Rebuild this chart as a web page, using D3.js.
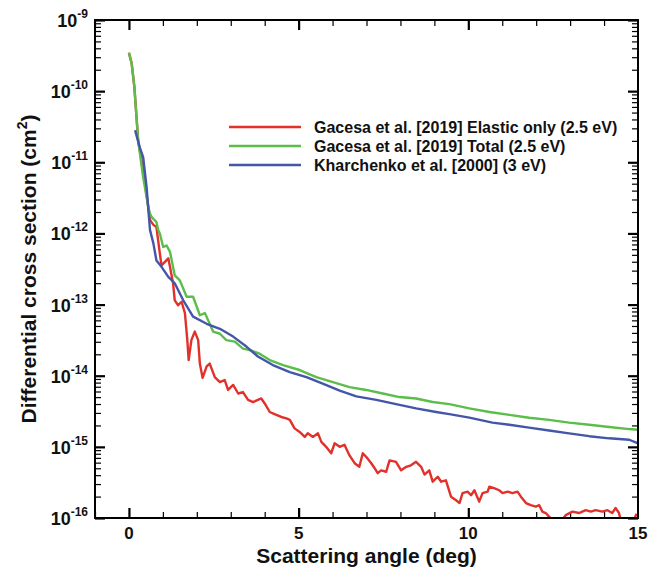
<!DOCTYPE html>
<html>
<head>
<meta charset="utf-8">
<script src="https://cdn.jsdelivr.net/npm/d3@7"></script>
<style>
  body { margin: 0; background: #fff; }
  text { font-family: "Liberation Sans", Arial, sans-serif; font-weight: bold; fill: #111; }
</style>
</head>
<body>
<svg id="dcsChart"></svg>
<script>
// ---- data (angle in deg, log10 of cross section in cm^2)
const elasticAngle = [0, 0.08, 0.16, 0.23, 0.27, 0.32, 0.45, 0.57, 0.62, 0.72, 0.81, 0.91, 0.96, 1.06, 1.16, 1.21, 1.30, 1.35, 1.45, 1.55, 1.65, 1.72, 1.76, 1.84, 1.94, 2.04, 2.09, 2.17, 2.29, 2.38, 2.53, 2.68, 2.82, 2.92, 3.07, 3.22, 3.36, 3.51, 3.66, 3.80, 3.90, 4.00, 4.15, 4.29, 4.49, 4.64, 4.74, 4.88, 5.03, 5.18, 5.27, 5.42, 5.57, 5.67, 5.81, 5.96, 6.06, 6.21, 6.35, 6.50, 6.65, 6.79, 6.89, 6.99, 7.14, 7.24, 7.33, 7.43, 7.58, 7.68, 7.87, 8.02, 8.17, 8.31, 8.46, 8.61, 8.71, 8.85, 8.95, 9.10, 9.20, 9.34, 9.49, 9.64, 9.74, 9.83, 9.98, 10.08, 10.18, 10.32, 10.42, 10.57, 10.62, 10.76, 10.91, 11.01, 11.16, 11.30, 11.45, 11.55, 11.70, 11.84, 11.99, 12.09, 12.18, 12.28, 12.38, 12.53, 12.68, 12.87, 13.07, 13.26, 13.46, 13.61, 13.75, 13.95, 14.10, 14.24, 14.34, 14.44, 14.50, 14.68, 14.85, 14.96];
const elasticLog = [-9.46, -9.61, -9.94, -10.41, -10.69, -10.83, -11.21, -11.63, -11.81, -11.88, -11.91, -12.28, -12.45, -12.40, -12.35, -12.47, -12.70, -12.94, -13.01, -12.96, -13.12, -13.50, -13.78, -13.50, -13.38, -13.50, -13.83, -14.03, -13.87, -13.83, -14.02, -14.09, -14.06, -14.20, -14.13, -14.25, -14.23, -14.34, -14.37, -14.34, -14.32, -14.39, -14.51, -14.54, -14.58, -14.60, -14.62, -14.74, -14.79, -14.86, -14.81, -14.86, -14.81, -14.93, -15.00, -15.09, -14.95, -15.00, -14.97, -15.12, -15.23, -15.28, -15.09, -15.14, -15.23, -15.30, -15.37, -15.33, -15.35, -15.19, -15.21, -15.33, -15.28, -15.26, -15.21, -15.28, -15.39, -15.33, -15.49, -15.42, -15.49, -15.47, -15.70, -15.75, -15.79, -15.65, -15.63, -15.68, -15.61, -15.77, -15.65, -15.63, -15.56, -15.58, -15.61, -15.65, -15.63, -15.65, -15.63, -15.70, -15.79, -15.82, -15.84, -15.82, -15.91, -15.93, -15.98, -16.05, -16.08, -15.96, -15.91, -15.93, -15.89, -15.91, -15.89, -15.91, -15.89, -15.93, -15.86, -15.93, -16.05, -16.10, -16.05, -15.94];

const totalAngle = [0, 0.08, 0.16, 0.23, 0.27, 0.42, 0.57, 0.62, 0.67, 0.81, 0.86, 0.91, 1.01, 1.11, 1.21, 1.35, 1.50, 1.70, 1.89, 2.09, 2.24, 2.48, 2.68, 2.87, 3.12, 3.36, 3.56, 3.85, 4.15, 4.54, 5.03, 5.52, 6.01, 6.50, 6.99, 7.48, 7.97, 8.46, 8.95, 9.44, 10.03, 10.62, 11.21, 11.79, 12.38, 12.97, 13.56, 14.15, 14.74, 15.0];
const totalLog = [-9.46, -9.61, -9.94, -10.41, -10.69, -11.21, -11.63, -11.72, -11.77, -11.84, -11.95, -12.00, -12.19, -12.17, -12.26, -12.59, -12.66, -12.89, -12.89, -13.15, -13.12, -13.38, -13.41, -13.50, -13.52, -13.62, -13.64, -13.69, -13.78, -13.85, -13.92, -14.02, -14.09, -14.16, -14.20, -14.25, -14.30, -14.32, -14.37, -14.40, -14.46, -14.51, -14.55, -14.59, -14.62, -14.66, -14.69, -14.72, -14.75, -14.76];

const kharchenkoAngle = [0.18, 0.32, 0.42, 0.52, 0.62, 0.72, 0.81, 0.96, 1.16, 1.35, 1.60, 1.89, 2.29, 2.68, 3.07, 3.46, 3.80, 4.24, 4.74, 5.23, 5.71, 6.21, 6.70, 7.29, 7.87, 8.46, 9.05, 9.44, 10.03, 10.71, 11.21, 11.79, 12.38, 12.97, 13.56, 14.15, 14.74, 15.0];
const kharchenkoLog = [-10.55, -10.79, -10.93, -11.35, -11.95, -12.14, -12.38, -12.47, -12.61, -12.70, -12.94, -13.17, -13.27, -13.34, -13.45, -13.59, -13.73, -13.85, -13.95, -14.02, -14.11, -14.21, -14.29, -14.34, -14.40, -14.46, -14.51, -14.54, -14.59, -14.66, -14.69, -14.73, -14.77, -14.81, -14.85, -14.88, -14.90, -14.95];

const seriesNames = [
  "Gacesa et al. [2019] Elastic only (2.5 eV)",
  "Gacesa et al. [2019] Total (2.5 eV)",
  "Kharchenko et al. [2000] (3 eV)"
];
const xTickValues = [0, 5, 10, 15];
const yDecades = [-16, -15, -14, -13, -12, -11, -10, -9];

function toPoints(angles, logs) {
  return angles.map((a, i) => ({ angle: a, sigma: Math.pow(10, logs[i]) }));
}

// config
function getChartConfig() {
  let width = 662;
  let height = 578;
  let margin = { top: 20, bottom: 60, left: 95, right: 24 };
  let bodyWidth = width - margin.left - margin.right;
  let bodyHeight = height - margin.top - margin.bottom;
  let container = d3.select('#dcsChart')
    .attr('width', width)
    .attr('height', height);
  return { width, height, margin, bodyWidth, bodyHeight, container };
}

// scales
function getChartScales(config) {
  let xScale = d3.scaleLinear()
    .domain([-1, 15])
    .range([0, config.bodyWidth]);
  let yScale = d3.scaleLog()
    .domain([1e-16, 1e-9])
    .range([config.bodyHeight, 0]);
  return { xScale, yScale };
}

function drawAxes(scales, config) {
  let { xScale, yScale } = scales;
  let { container, margin, bodyWidth, bodyHeight } = config;
  let body = container.append('g')
    .attr('transform', `translate(${margin.left},${margin.top})`);

  let majorY = yDecades.map(e => Math.pow(10, e));
  let minorY = [];
  yDecades.slice(0, -1).forEach(e => {
    for (let m = 2; m <= 9; m++) minorY.push(m * Math.pow(10, e));
  });
  let majorX = [0, 5, 10];
  let minorX = d3.range(-1, 16).filter(v => v % 5 !== 0);

  // ticks point inward on all four sides
  let addAxis = (axisFn, scale, values, size, transform) => {
    let g = body.append('g')
      .attr('transform', transform)
      .call(axisFn(scale).tickValues(values).tickSize(-size).tickSizeOuter(0).tickFormat(''));
    g.select('.domain').remove();
    g.selectAll('line').attr('stroke', '#000').attr('stroke-width', size > 6 ? 2.2 : 1.2);
  };
  addAxis(d3.axisLeft, yScale, majorY, 10, 'translate(0,0)');
  addAxis(d3.axisLeft, yScale, minorY, 6, 'translate(0,0)');
  addAxis(d3.axisRight, yScale, majorY, 10, `translate(${bodyWidth},0)`);
  addAxis(d3.axisRight, yScale, minorY, 6, `translate(${bodyWidth},0)`);
  addAxis(d3.axisBottom, xScale, majorX, 10, `translate(0,${bodyHeight})`);
  addAxis(d3.axisBottom, xScale, minorX, 6, `translate(0,${bodyHeight})`);
  addAxis(d3.axisTop, xScale, majorX, 10, 'translate(0,0)');
  addAxis(d3.axisTop, xScale, minorX, 6, 'translate(0,0)');

  // y tick labels 10^n
  let yLabels = body.append('g').selectAll('text')
    .data(yDecades)
    .enter().append('text')
    .attr('x', -7)
    .attr('y', d => yScale(Math.pow(10, d)) + 7)
    .attr('text-anchor', 'end')
    .style('font-size', '18px');
  yLabels.append('tspan').text('10');
  yLabels.append('tspan')
    .attr('dy', -9)
    .style('font-size', '12px')
    .text(d => '-' + Math.abs(d));

  // x tick labels
  body.append('g').selectAll('text')
    .data(xTickValues)
    .enter().append('text')
    .attr('x', d => xScale(d))
    .attr('y', bodyHeight + 21)
    .attr('text-anchor', 'middle')
    .style('font-size', '17px')
    .text(d => d);

  // axis titles
  body.append('text')
    .attr('x', bodyWidth / 2)
    .attr('y', bodyHeight + 45)
    .attr('text-anchor', 'middle')
    .style('font-size', '21px')
    .text('Scattering angle (deg)');

  let yTitle = body.append('text')
    .attr('transform', `translate(${-margin.left + 36},${bodyHeight / 2}) rotate(-90)`)
    .attr('text-anchor', 'middle')
    .style('font-size', '21px');
  yTitle.append('tspan').text('Differential cross section (cm');
  yTitle.append('tspan').attr('dy', -9).style('font-size', '14px').text('2');
  yTitle.append('tspan').attr('dy', 9).text(')');

  return body;
}

function drawCurves(body, scales, config) {
  let { xScale, yScale } = scales;
  let colors = ['#e2302a', '#5bbd4a', '#4456a8'];
  let series = [
    toPoints(elasticAngle, elasticLog),
    toPoints(totalAngle, totalLog),
    toPoints(kharchenkoAngle, kharchenkoLog)
  ];

  body.append('clipPath').attr('id', 'plotClip')
    .append('rect')
    .attr('width', config.bodyWidth)
    .attr('height', config.bodyHeight);

  let line = d3.line()
    .x(d => xScale(d.angle))
    .y(d => yScale(d.sigma));

  body.append('g')
    .attr('clip-path', 'url(#plotClip)')
    .selectAll('path')
    .data(series)
    .enter().append('path')
    .attr('d', line)
    .attr('fill', 'none')
    .attr('stroke', (d, i) => colors[i])
    .attr('stroke-width', 2.4)
    .attr('stroke-linejoin', 'round');

  // legend
  let legend = body.append('g')
    .attr('transform', `translate(${229 - config.margin.left},${127 - config.margin.top})`);
  let rows = legend.selectAll('g')
    .data(seriesNames)
    .enter().append('g')
    .attr('transform', (d, i) => `translate(0,${i * 19})`);
  rows.append('line')
    .attr('x1', 0).attr('x2', 72)
    .attr('stroke', (d, i) => colors[i])
    .attr('stroke-width', 2.4);
  rows.append('text')
    .attr('x', 85)
    .attr('dy', '0.36em')
    .style('font-size', '16px')
    .text(d => d);

  // frame
  body.append('rect')
    .attr('width', config.bodyWidth)
    .attr('height', config.bodyHeight)
    .attr('fill', 'none')
    .attr('stroke', '#000')
    .attr('stroke-width', 2);
}

function drawChart() {
  let config = getChartConfig();
  let scales = getChartScales(config);
  let body = drawAxes(scales, config);
  drawCurves(body, scales, config);
}

drawChart();
</script>
</body>
</html>
